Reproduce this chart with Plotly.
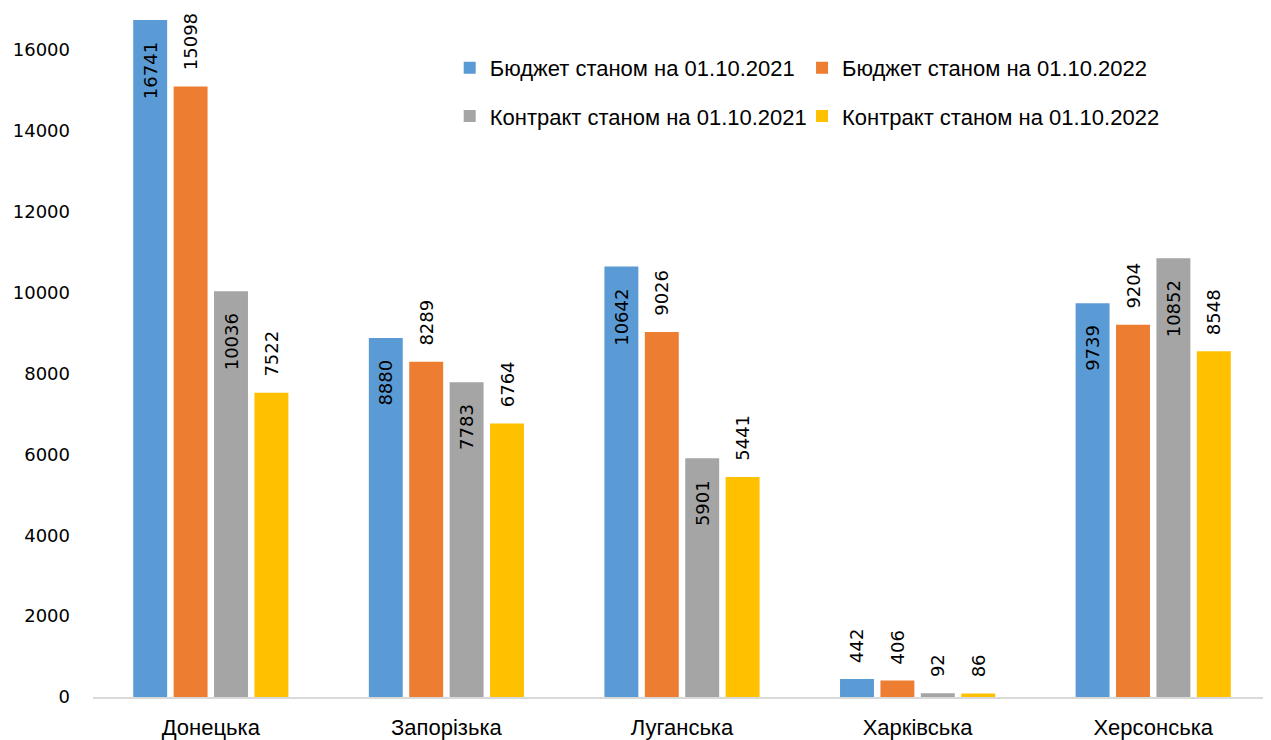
import plotly.graph_objects as go

# Regions (x categories)
regions = ["Донецька", "Запорізька", "Луганська", "Харківська", "Херсонська"]

# Series values
budget_2021 = [16741, 8880, 10642, 442, 9739]
budget_2022 = [15098, 8289, 9026, 406, 9204]
contract_2021 = [10036, 7783, 5901, 92, 10852]
contract_2022 = [7522, 6764, 5441, 86, 8548]

series_names = [
    "Бюджет станом на 01.10.2021",
    "Бюджет станом на 01.10.2022",
    "Контракт станом на 01.10.2021",
    "Контракт станом на 01.10.2022",
]
series_values = [budget_2021, budget_2022, contract_2021, contract_2022]

colors = ["#5B9BD5", "#ED7D31", "#A5A5A5", "#FFC000"]
# blue and grey series carry labels inside the bar end, the others outside
labels_inside = [True, False, True, False]
# one single-entry legend per series, laid out as a 2x2 block
legend_ids = ["legend", "legend2", "legend3", "legend4"]
legend_x = [0.3028, 0.6019, 0.3028, 0.6019]
legend_y = [0.913, 0.913, 0.843, 0.843]

PAD = "\u2800"  # blank glyph used as a gap between bar end and label
LABEL_FONT = dict(family="DejaVu Sans", size=18, color="black")

fig = go.Figure()
for name, vals, col, inside, lg in zip(series_names, series_values, colors, labels_inside, legend_ids):
    pos = []
    txt = []
    for v in vals:
        if inside and v > 1000:
            pos.append("inside")
            txt.append(f"{v}\u00a0" + PAD)
        else:
            pos.append("outside")
            txt.append(PAD + f"{v}")
    fig.add_trace(go.Bar(
        x=regions,
        y=vals,
        name=name,
        marker=dict(color=col, line=dict(width=0)),
        text=txt,
        textposition=pos,
        insidetextanchor="end",
        textangle=-90,
        textfont=LABEL_FONT,
        insidetextfont=LABEL_FONT,
        outsidetextfont=LABEL_FONT,
        constraintext="none",
        cliponaxis=False,
        legend=lg,
        hoverinfo="x+y+name",
    ))

legend_font = dict(family="Liberation Sans", size=22, color="black")
legends = {}
for lg, lx, ly in zip(legend_ids, legend_x, legend_y):
    legends[lg] = dict(
        x=lx, y=ly, xanchor="left", yanchor="middle",
        font=legend_font, itemwidth=30, bgcolor="rgba(0,0,0,0)",
    )

fig.update_layout(
    width=1263,
    height=732,
    margin=dict(l=85, r=0, t=0, b=43),
    plot_bgcolor="white",
    paper_bgcolor="white",
    barmode="group",
    bargap=0.314,
    bargroupgap=0.16,
    showlegend=True,
    xaxis=dict(
        showline=True, linecolor="#D9D9D9", linewidth=2,
        ticks="", showgrid=False, automargin=False,
        tickfont=dict(family="Liberation Sans", size=22, color="black"),
        ticklabelstandoff=10,
    ),
    yaxis=dict(
        range=[0, 17037], dtick=2000, tick0=0, tickformat="d",
        showgrid=False, zeroline=False, showline=False, ticks="",
        automargin=False,
        tickfont=dict(family="DejaVu Sans", size=18, color="black"),
        ticklabelstandoff=22,
    ),
    **legends,
)

fig.write_html("out.html")
